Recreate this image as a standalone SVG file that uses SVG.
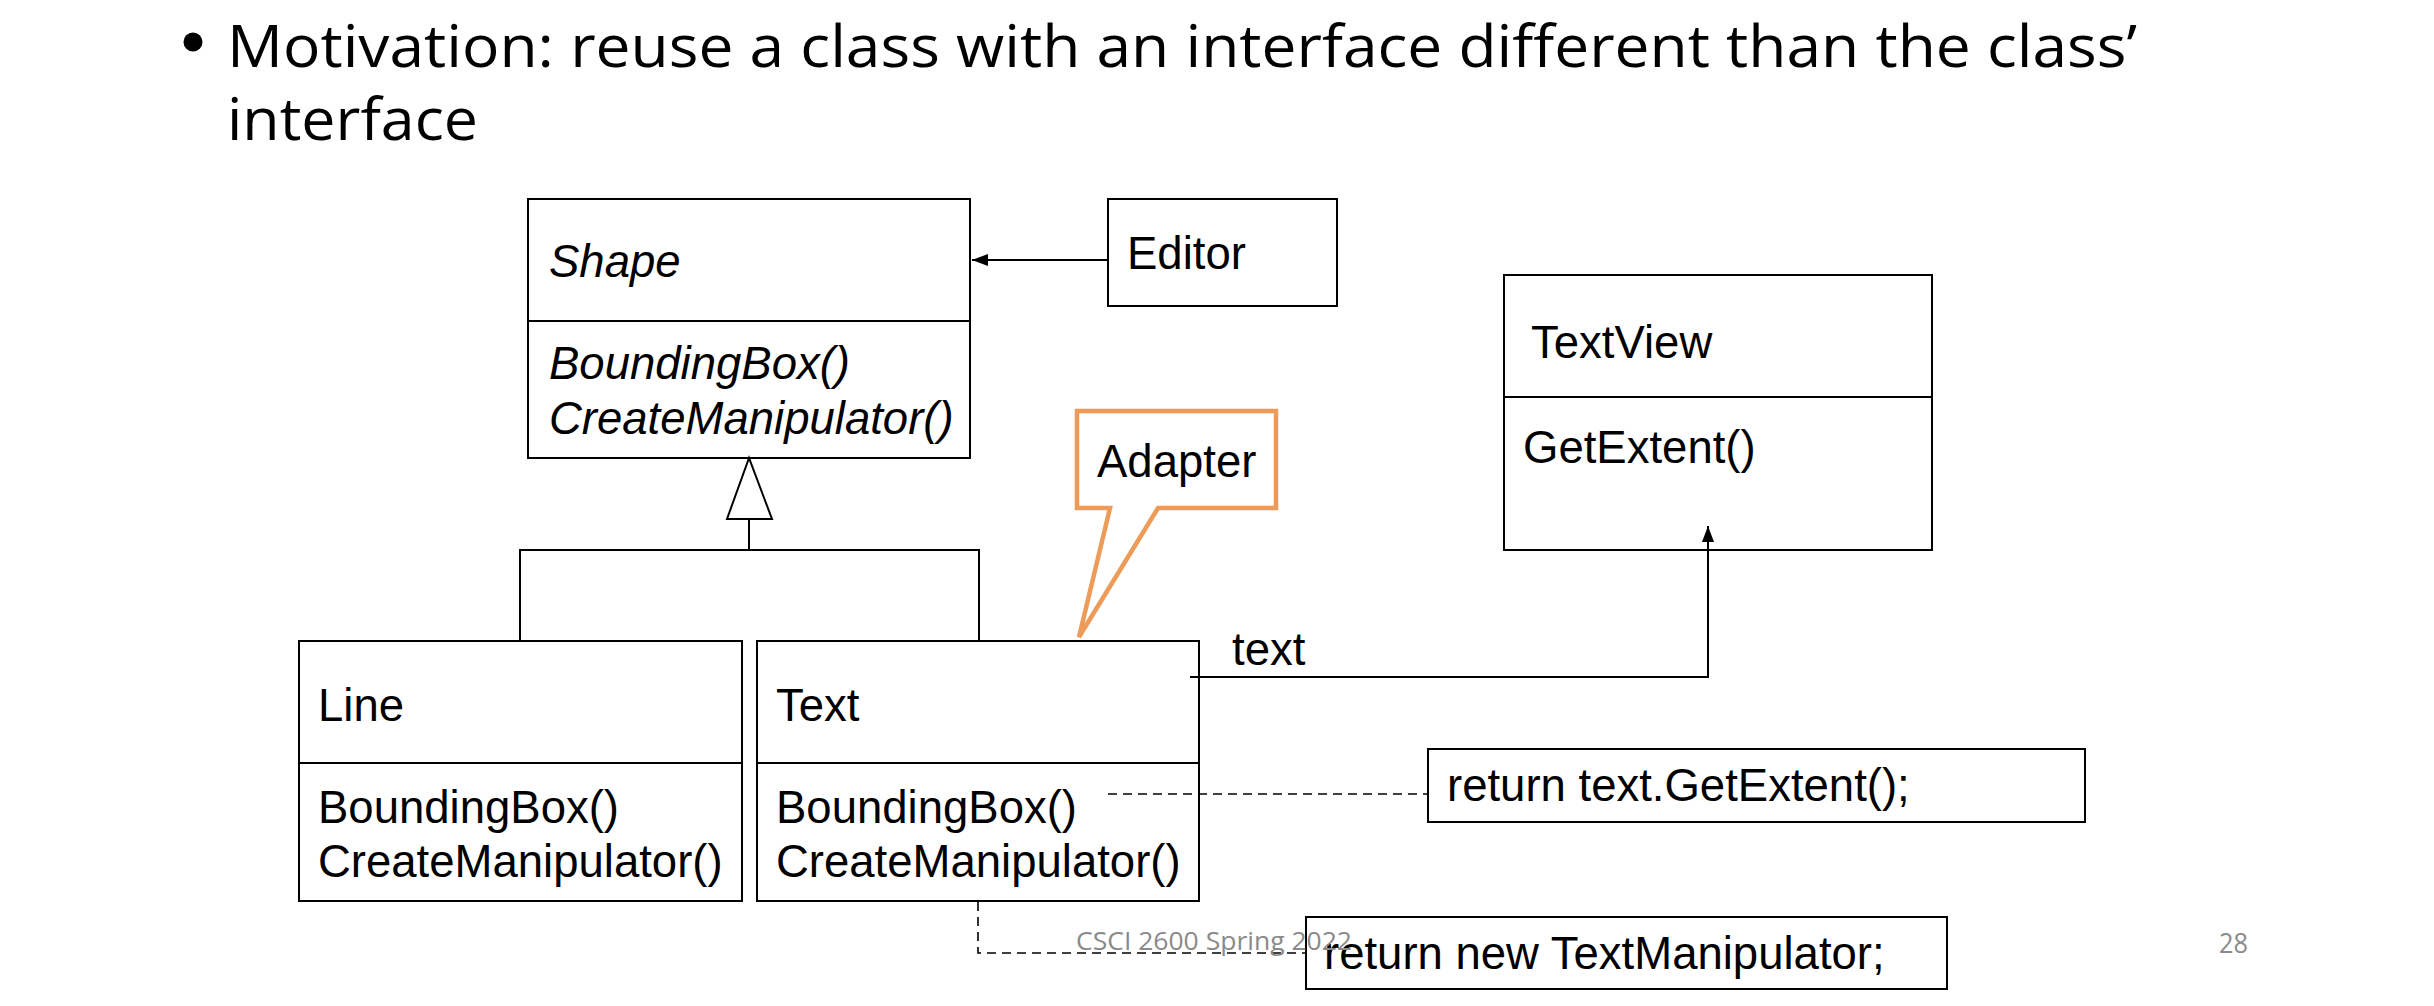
<svg xmlns="http://www.w3.org/2000/svg" width="2434" height="1006" viewBox="0 0 2434 1006">
<style>
.box{fill:#fff;stroke:#000;stroke-width:2}
.t{font-family:"Liberation Sans",Arial,sans-serif;font-size:45.5px;fill:#000}
.it{font-style:italic}
.ln{fill:none;stroke:#000;stroke-width:2}
.dash{fill:none;stroke:#000;stroke-width:1.6;stroke-dasharray:9 6}
.title{font-family:"Open Sans","Noto Sans",sans-serif;font-size:59px;fill:#000}
.foot{font-family:"Open Sans","Noto Sans",sans-serif;fill:#8a8a8a}
</style>
<defs>
<marker id="arr" viewBox="0 0 16 12" refX="16" refY="6" markerWidth="16" markerHeight="12" markerUnits="userSpaceOnUse" orient="auto">
<path d="M0,0 L16,6 L0,12 Z" fill="#000"/>
</marker>
</defs>
<rect width="2434" height="1006" fill="#fff"/>
<g id="title">
<circle cx="193" cy="42" r="9.5" fill="#000"/>
<text class="title" x="227" y="67" textLength="1910" lengthAdjust="spacingAndGlyphs">Motivation: reuse a class with an interface different than the class’</text>
<text class="title" x="227" y="140" textLength="251" lengthAdjust="spacingAndGlyphs">interface</text>
</g>
<g id="shape">
<rect class="box" x="528" y="199" width="442" height="259"/>
<line class="ln" x1="528" y1="321" x2="970" y2="321"/>
<text class="t it" x="549" y="277">Shape</text>
<text class="t it" x="549" y="379">BoundingBox()</text>
<text class="t it" x="549" y="434">CreateManipulator()</text>
</g>
<g id="editor">
<rect class="box" x="1108" y="199" width="229" height="107"/>
<text class="t" x="1127" y="269">Editor</text>
</g>
<g id="textview">
<rect class="box" x="1504" y="275" width="428" height="275"/>
<line class="ln" x1="1504" y1="397" x2="1932" y2="397"/>
<text class="t" x="1531" y="358">TextView</text>
<text class="t" x="1523" y="463">GetExtent()</text>
</g>
<g id="line">
<rect class="box" x="299" y="641" width="443" height="260"/>
<line class="ln" x1="299" y1="763" x2="742" y2="763"/>
<text class="t" x="318" y="721">Line</text>
<text class="t" x="318" y="823">BoundingBox()</text>
<text class="t" x="318" y="877">CreateManipulator()</text>
</g>
<g id="text">
<rect class="box" x="757" y="641" width="442" height="260"/>
<line class="ln" x1="757" y1="763" x2="1199" y2="763"/>
<text class="t" x="776" y="721">Text</text>
<text class="t" x="776" y="823">BoundingBox()</text>
<text class="t" x="776" y="877">CreateManipulator()</text>
</g>
<g id="connectors">
<line class="ln" x1="1108" y1="260" x2="972" y2="260" marker-end="url(#arr)"/>
<polyline class="ln" points="520,641 520,550 979,550 979,641"/>
<line class="ln" x1="749" y1="550" x2="749" y2="519"/>
<polygon points="749,458 727,519 772,519" fill="#fff" stroke="#000" stroke-width="2"/>
<polyline class="ln" points="1190,677 1708,677 1708,526" stroke-width="2.5" marker-end="url(#arr)"/>
<line class="dash" x1="1108" y1="794" x2="1428" y2="794"/>
<polyline class="dash" points="978,902 978,953 1306,953"/>
</g>
<g id="assoc-label">
<text class="t" x="1232" y="665">text</text>
</g>
<g id="adapter">
<path d="M1077,411 L1276,411 L1276,508 L1158,508 L1079,637 L1110,508 L1077,508 Z" fill="#fff" stroke="#ED9B58" stroke-width="4.5" stroke-linejoin="miter"/>
<text class="t" x="1097" y="477">Adapter</text>
</g>
<g id="note1">
<rect class="box" x="1428" y="749" width="657" height="73"/>
<text class="t" x="1447" y="801">return text.GetExtent();</text>
</g>
<g id="note2">
<rect class="box" x="1306" y="917" width="641" height="72"/>
<text class="t" x="1324" y="969">return new TextManipulator;</text>
</g>
<g id="footer">
<text class="foot" x="1076" y="950" font-size="25" textLength="276" lengthAdjust="spacingAndGlyphs">CSCI 2600 Spring 2022</text>
<text class="foot" x="2219" y="953" font-size="27" textLength="29" lengthAdjust="spacingAndGlyphs">28</text>
</g>
</svg>
